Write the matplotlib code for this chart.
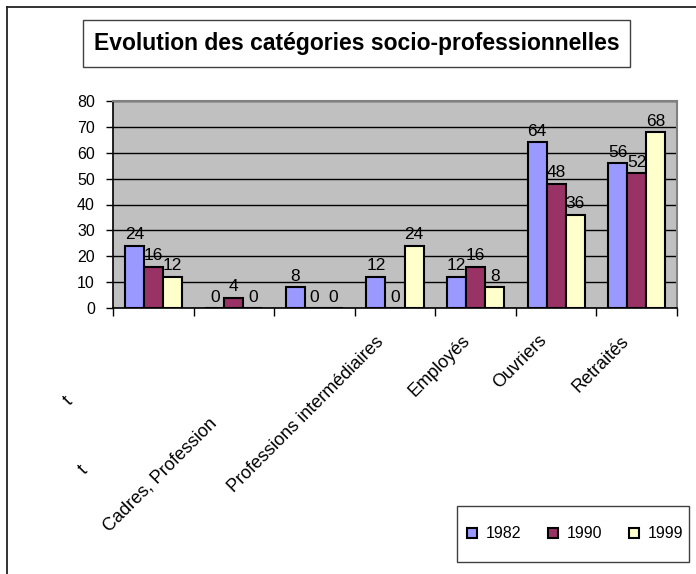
import matplotlib
matplotlib.use('Agg')
import matplotlib.pyplot as plt
from matplotlib.patches import Rectangle
from matplotlib.lines import Line2D
import numpy as np

plt.rcParams['font.family'] = ['Liberation Sans', 'DejaVu Sans']

# ---------------- data ----------------
categories = ["Agriculteurs exploitants", "Artisans, commerçants",
              "Cadres, Professions intellectuelles supérieures",
              "Professions intermédiaires", "Employés", "Ouvriers", "Retraités"]
tick_labels = ["t", "t", "Cadres, Profession", "Professions intermédiaires",
               "Employés", "Ouvriers", "Retraités"]
years = ["1982", "1990", "1999"]
v1982 = [24, 0, 8, 12, 12, 64, 56]
v1990 = [16, 4, 0, 0, 16, 48, 52]
v1999 = [12, 0, 0, 24, 8, 36, 68]
y_ticks = [0, 10, 20, 30, 40, 50, 60, 70, 80]
title = "Evolution des catégories socio-professionnelles"

# ---------------- layout ----------------
W, H = 696, 574
fig = plt.figure(figsize=(W / 100, H / 100), dpi=100)
fig.patch.set_facecolor('white')

def fx(px):
    return px / W

def fy(py):
    return 1 - py / H

ax_l, ax_r, ax_t, ax_b = 113, 677, 101, 308
ax = fig.add_axes([fx(ax_l), fy(ax_b), (ax_r - ax_l) / W, (ax_b - ax_t) / H])
ax.set_facecolor('#C0C0C0')

colors = ['#9999FF', '#993366', '#FFFFCC']
series = [v1982, v1990, v1999]
x = np.arange(len(categories))
bw = 0.236
for k, (vals, col, yr) in enumerate(zip(series, colors, years)):
    pos = x + (k - 1) * bw
    ax.bar(pos, vals, width=bw, color=col, edgecolor='black',
           linewidth=1.5, label=yr, zorder=3)
    for px_, v in zip(pos, vals):
        ax.annotate(str(v), (px_, v), xytext=(0, 2.5), textcoords='offset points',
                    ha='center', va='bottom', fontsize=12.5, zorder=4)

ax.set_xlim(-0.5, len(categories) - 0.5)
ax.set_ylim(0, 80)
ax.set_yticks(y_ticks)
ax.set_yticklabels([str(t) for t in y_ticks], fontsize=11.5)
ax.yaxis.grid(True, color='black', linewidth=1, zorder=1)
ax.set_axisbelow(True)

# category boundary ticks on x axis
ax.set_xticks(np.arange(-0.5, len(categories), 1.0))
ax.set_xticklabels([])
ax.tick_params(axis='x', direction='out', length=6, width=1, color='black')
ax.tick_params(axis='y', direction='out', length=5, width=1, color='black', pad=8)

for s in ['left', 'bottom']:
    ax.spines[s].set_color('black')
    ax.spines[s].set_linewidth(1.2)
for s in ['top', 'right']:
    ax.spines[s].set_color('#808080')
    ax.spines[s].set_linewidth(1.5)

# rotated category labels (as they appear, partly clipped)
label_pos = [(-0.96, -0.411), (-0.77, -0.744), (0.83, -0.517), (2.90, -0.121),
             (3.97, -0.116), (4.92, -0.116), (5.95, -0.121)]
trans = ax.get_xaxis_transform()
for lab, (lx, ly) in zip(tick_labels, label_pos):
    ax.text(lx, ly, lab, transform=trans, rotation=45, ha='right', va='top',
            fontsize=13, clip_on=False)

# ---------------- title box ----------------
fig.add_artist(Rectangle((fx(83), fy(67)), (630 - 83) / W, (67 - 20) / H,
                         transform=fig.transFigure, facecolor='white',
                         edgecolor='#404040', linewidth=1))
fig.text(fx(356.5), fy(43.5), title, ha='center', va='center',
         fontsize=16.5, fontweight='bold')

# ---------------- outer frame lines ----------------
fig.add_artist(Line2D([fx(7), 1], [fy(7), fy(7)], transform=fig.transFigure,
                      color='#222222', linewidth=1.3))
fig.add_artist(Line2D([fx(7), fx(7)], [fy(7), 0], transform=fig.transFigure,
                      color='#222222', linewidth=1.3))

# ---------------- legend ----------------
fig.add_artist(Rectangle((fx(457), fy(562)), (689 - 457) / W, (562 - 506) / H,
                         transform=fig.transFigure, facecolor='white',
                         edgecolor='#404040', linewidth=1))
leg = fig.legend(loc='center', bbox_to_anchor=(fx(575), fy(534)), ncol=3,
                 fontsize=11.5, frameon=False,
                 handlelength=0.65, handleheight=0.65, handletextpad=0.5,
                 columnspacing=1.7, borderpad=0, borderaxespad=0)
for h in leg.legend_handles:
    h.set_linewidth(1.5)

fig.savefig('out.png', dpi=100)
